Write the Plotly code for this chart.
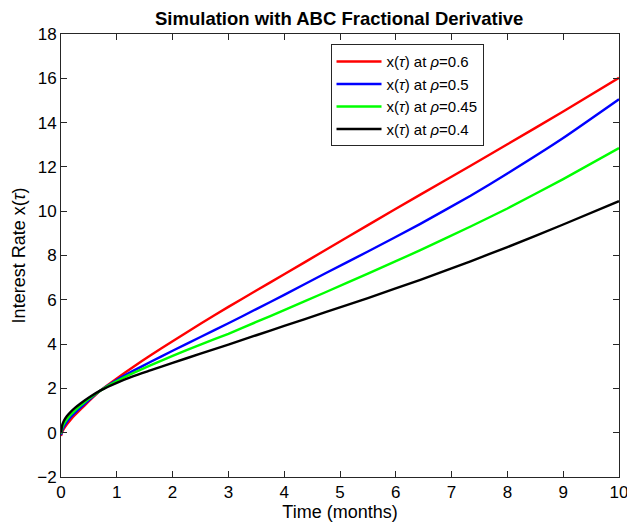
import plotly.graph_objects as go

t = [0, 0.02, 0.05, 0.1, 0.17, 0.25, 0.35, 0.5, 0.71, 1, 1.3, 1.6, 2, 2.5, 3, 3.5, 4, 4.74, 5.5, 6.44, 7.34, 8, 9, 10]

x_rho_06 = [-0.15, 0.02, 0.17, 0.36, 0.58, 0.8, 1.05, 1.42, 1.91, 2.45, 2.98, 3.49, 4.13, 4.92, 5.68, 6.42, 7.15, 8.25, 9.37, 10.75, 12.05, 13.02, 14.5, 16.02]
x_rho_05 = [-0.1, 0.1, 0.27, 0.47, 0.7, 0.9, 1.13, 1.47, 1.91, 2.38, 2.8, 3.19, 3.7, 4.32, 4.94, 5.58, 6.22, 7.2, 8.18, 9.43, 10.7, 11.7, 13.3, 15.05]
x_rho_045 = [-0.05, 0.2, 0.38, 0.58, 0.8, 1.0, 1.22, 1.53, 1.91, 2.33, 2.7, 3.04, 3.47, 3.98, 4.46, 5.0, 5.53, 6.34, 7.18, 8.24, 9.31, 10.12, 11.45, 12.85]
x_rho_04 = [0, 0.33, 0.53, 0.73, 0.93, 1.12, 1.32, 1.59, 1.91, 2.25, 2.55, 2.81, 3.15, 3.57, 3.98, 4.4, 4.82, 5.44, 6.08, 6.9, 7.74, 8.38, 9.4, 10.45]

names = ["x(<i>τ</i>) at <i>ρ</i>=0.6", "x(<i>τ</i>) at <i>ρ</i>=0.5",
         "x(<i>τ</i>) at <i>ρ</i>=0.45", "x(<i>τ</i>) at <i>ρ</i>=0.4"]
series = [x_rho_06, x_rho_05, x_rho_045, x_rho_04]
colors = ["#ff0000", "#0000ff", "#00ff00", "#000000"]

x_ticks = list(range(0, 11))
y_ticks = list(range(-2, 19, 2))

fig = go.Figure()
for name, ys, c in zip(names, series, colors):
    fig.add_trace(go.Scatter(x=t, y=ys, mode="lines", name=name,
                             line=dict(color=c, width=2.4, shape="spline", smoothing=0.4)))

axis_common = dict(showline=True, linecolor="#262626", linewidth=1, mirror="ticks",
                   ticks="inside", ticklen=6, tickcolor="#262626", showgrid=False,
                   zeroline=False, automargin=False, ticklabeloverflow="allow",
                   tickfont=dict(size=17, color="#000000"))

fig.update_layout(
    width=627, height=530,
    margin=dict(l=61, r=8, t=34, b=53),
    paper_bgcolor="white", plot_bgcolor="white",
    font=dict(family="Liberation Sans, Arial, sans-serif", color="#000000"),
    title=dict(text="<b>Simulation with ABC Fractional Derivative</b>", x=0.541, xanchor="center",
               y=0.965, yanchor="middle", font=dict(size=18.5)),
    xaxis=dict(range=[0, 10], tickvals=x_ticks, title=dict(text="Time (months)", font=dict(size=18), standoff=2),
               **axis_common),
    yaxis=dict(range=[-2, 18], tickvals=y_ticks, title=dict(text="Interest Rate x(<i>τ</i>)", font=dict(size=18), standoff=6),
               **axis_common),
    legend=dict(x=0.483, y=0.977, xanchor="left", yanchor="top", bordercolor="#262626", borderwidth=1,
                bgcolor="white", font=dict(size=15), tracegroupgap=0, itemwidth=45),
)

fig.write_html("out.html", config={"displayModeBar": False},
               post_script="document.body.style.margin='0';")
